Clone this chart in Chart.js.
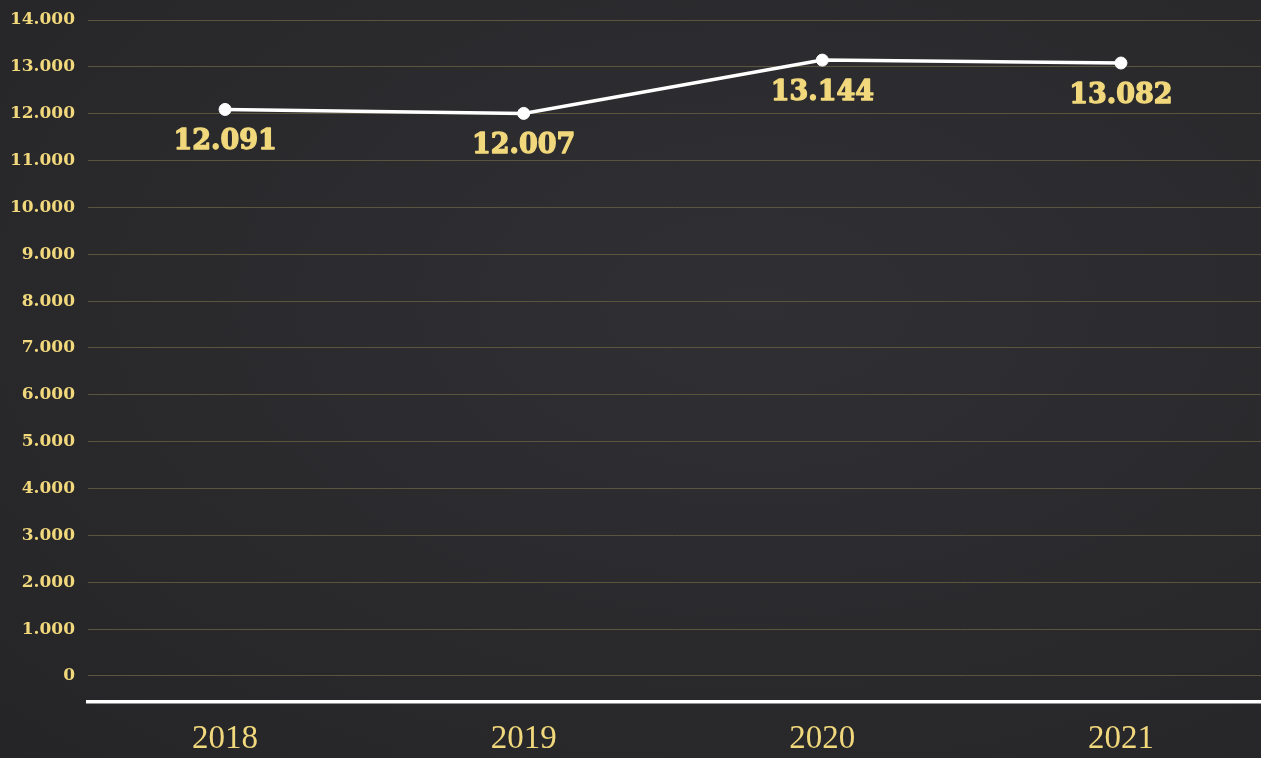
<!DOCTYPE html>
<html>
<head>
<meta charset="utf-8">
<script src="https://cdn.jsdelivr.net/npm/chart.js@4.4.0/dist/chart.umd.min.js"></script>
<style>
  html, body { margin: 0; padding: 0; background: #2a2a2d; overflow: hidden; }
  #wrap { position: relative; width: 1261px; height: 758px;
    background: radial-gradient(ellipse at 60% 40%, #303034 0%, #2a2a2d 55%, #252528 100%); }
  canvas { display: block; }
</style>
</head>
<body>
<div id="wrap"><canvas id="c" width="1261" height="758"></canvas></div>
<script>
const categories = ['2018', '2019', '2020', '2021'];
const values = [12091, 12007, 13144, 13082];
const yTicks = [0, 1000, 2000, 3000, 4000, 5000, 6000, 7000, 8000, 9000, 10000, 11000, 12000, 13000, 14000];

const YELLOW = '#f1d87c';
const fmt = v => String(v).replace(/\B(?=(\d{3})+(?!\d))/g, '.');

const valueLabels = {
  id: 'valueLabels',
  afterDatasetsDraw(chart) {
    const ctx = chart.ctx;
    const meta = chart.getDatasetMeta(0);
    ctx.save();
    ctx.fillStyle = YELLOW;
    ctx.strokeStyle = YELLOW;
    ctx.lineWidth = 1.3;
    ctx.lineJoin = 'round';
    ctx.font = 'bold 27px "DejaVu Serif"';
    ctx.textAlign = 'center';
    ctx.textBaseline = 'middle';
    meta.data.forEach((pt, i) => {
      ctx.fillText(fmt(values[i]), pt.x, pt.y + 33);
      ctx.strokeText(fmt(values[i]), pt.x, pt.y + 33);
    });
    ctx.restore();
  }
};

new Chart(document.getElementById('c'), {
  type: 'line',
  data: {
    datasets: [{
      data: categories.map((c, i) => ({ x: Number(c), y: values[i] })),
      borderColor: '#ffffff',
      borderWidth: 3.5,
      pointBackgroundColor: '#ffffff',
      pointBorderColor: '#ffffff',
      pointRadius: 6,
      pointBorderWidth: 1,
      tension: 0,
      clip: false
    }]
  },
  options: {
    responsive: false,
    animation: false,
    layout: { autoPadding: false, padding: { top: 20, right: 0, left: 0, bottom: 0 } },
    plugins: { legend: { display: false }, tooltip: { enabled: false } },
    scales: {
      x: {
        type: 'linear',
        min: 2017.541,
        max: 2021.469,
        afterBuildTicks: s => { s.ticks = categories.map(c => ({ value: Number(c) })); },
        afterFit: s => { s.height = 56; s.paddingLeft = 0; s.paddingRight = 0; },
        grid: { display: false, drawTicks: false },
        border: { display: true, color: '#ffffff', width: 3.5 },
        ticks: {
          color: YELLOW,
          font: { family: '"Liberation Serif"', size: 33 },
          padding: 18,
          callback: v => String(v)
        }
      },
      y: {
        min: -555,
        max: 14000,
        afterBuildTicks: s => { s.ticks = yTicks.map(v => ({ value: v })); },
        afterFit: s => { s.width = 88; s.paddingTop = 0; s.paddingBottom = 0; },
        grid: { color: '#5b543f', lineWidth: 1, drawTicks: false },
        border: { display: false },
        ticks: {
          color: YELLOW,
          font: { family: '"DejaVu Serif"', size: 17, weight: 'bold' },
          padding: 13,
          callback: v => fmt(v)
        }
      }
    }
  },
  plugins: [valueLabels]
});
</script>
</body>
</html>
